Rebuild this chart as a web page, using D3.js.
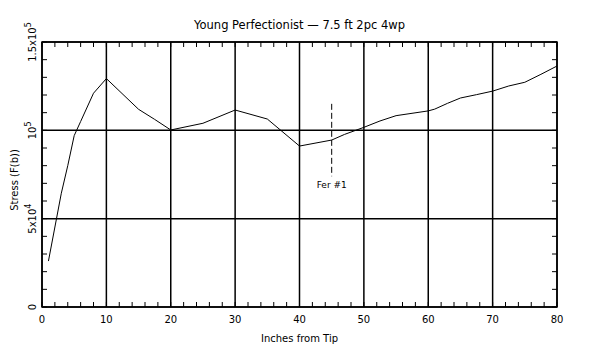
<!DOCTYPE html>
<html><head><meta charset="utf-8">
<script src="https://cdn.jsdelivr.net/npm/d3@7"></script>
<style>body{margin:0;background:#fff}svg{display:block}text{font-family:"DejaVu Sans",sans-serif;fill:#000}</style>
</head><body><svg id="c" width="600" height="350"></svg>
<script>
const inches = [1,3,4,5,6,8,10,15,17.5,20,25,30,35,40,45,47,50,52.5,55,60,61,63,65,67.5,70,72.5,75,77.5,80];
const stress = [26000,64400,80000,97000,105000,121000,129300,111900,106200,100200,104000,111500,106400,91100,94500,97700,101700,105300,108300,111000,112000,115300,118300,120200,122200,125100,127200,131700,136400];
const xTicks = [0,10,20,30,40,50,60,70,80];
const yTicks = [0,50000,100000,150000];
const yTickLabels = [["0",""],["5x10","4"],["10","5"],["1.5x10","5"]];
const marker = {x:45, y0:74000, y1:115000, label:"Fer #1"};
const title = "Young Perfectionist \u2014 7.5 ft 2pc 4wp";

const svg = d3.select("#c");
const L=42,R=557,T=42,B=307;
const x = d3.scaleLinear().domain([0,80]).range([L,R]);
const y = d3.scaleLinear().domain([0,150000]).range([B,T]);

const g = svg.append("g");
d3.range(0,81,2).forEach(v=>{
  g.append("line").attr("x1",x(v)).attr("x2",x(v)).attr("y1",B).attr("y2",B-5).attr("stroke","#000");
  g.append("line").attr("x1",x(v)).attr("x2",x(v)).attr("y1",T).attr("y2",T+5).attr("stroke","#000");
});
d3.range(0,150001,10000).forEach(v=>{
  g.append("line").attr("x1",L).attr("x2",L+5).attr("y1",y(v)).attr("y2",y(v)).attr("stroke","#000");
  g.append("line").attr("x1",R).attr("x2",R-5).attr("y1",y(v)).attr("y2",y(v)).attr("stroke","#000");
});
xTicks.forEach(v=>g.append("line").attr("x1",x(v)).attr("x2",x(v)).attr("y1",T).attr("y2",B).attr("stroke","#000").attr("stroke-width",1.5));
yTicks.forEach(v=>g.append("line").attr("x1",L).attr("x2",R).attr("y1",y(v)).attr("y2",y(v)).attr("stroke","#000").attr("stroke-width",1.5));
g.append("rect").attr("x",L).attr("y",T).attr("width",R-L).attr("height",B-T).attr("fill","none").attr("stroke","#000").attr("stroke-width",1.5);

xTicks.forEach(v=>svg.append("text").attr("x",x(v)).attr("y",B+16).attr("text-anchor","middle").attr("font-size",10).text(v));
yTicks.forEach((v,i)=>{
  const t = svg.append("text").attr("transform",`translate(36,${y(v)}) rotate(-90)`).attr("text-anchor","middle").attr("font-size",10);
  t.append("tspan").text(yTickLabels[i][0]);
  if(yTickLabels[i][1]) t.append("tspan").attr("dy",-5).attr("font-size",8).text(yTickLabels[i][1]);
});

svg.append("path").datum(inches.map((d,i)=>[d,stress[i]]))
  .attr("d",d3.line().x(d=>x(d[0])).y(d=>y(d[1])))
  .attr("fill","none").attr("stroke","#000").attr("stroke-width",1);

svg.append("line").attr("x1",x(marker.x)).attr("x2",x(marker.x)).attr("y1",y(marker.y1)).attr("y2",y(marker.y0))
  .attr("stroke","#000").attr("stroke-dasharray","6,3");
svg.append("text").attr("x",x(marker.x)).attr("y",y(marker.y0)+12).attr("text-anchor","middle").attr("font-size",9).attr("fill","#000").text(marker.label);

svg.append("text").attr("x",(L+R)/2).attr("y",29).attr("text-anchor","middle").attr("font-size",11.5).text(title);
svg.append("text").attr("x",(L+R)/2).attr("y",342).attr("text-anchor","middle").attr("font-size",10).text("Inches from Tip");
svg.append("text").attr("transform",`translate(18,180) rotate(-90)`).attr("text-anchor","middle").attr("font-size",10).text("Stress (F(b))");
</script></body></html>
